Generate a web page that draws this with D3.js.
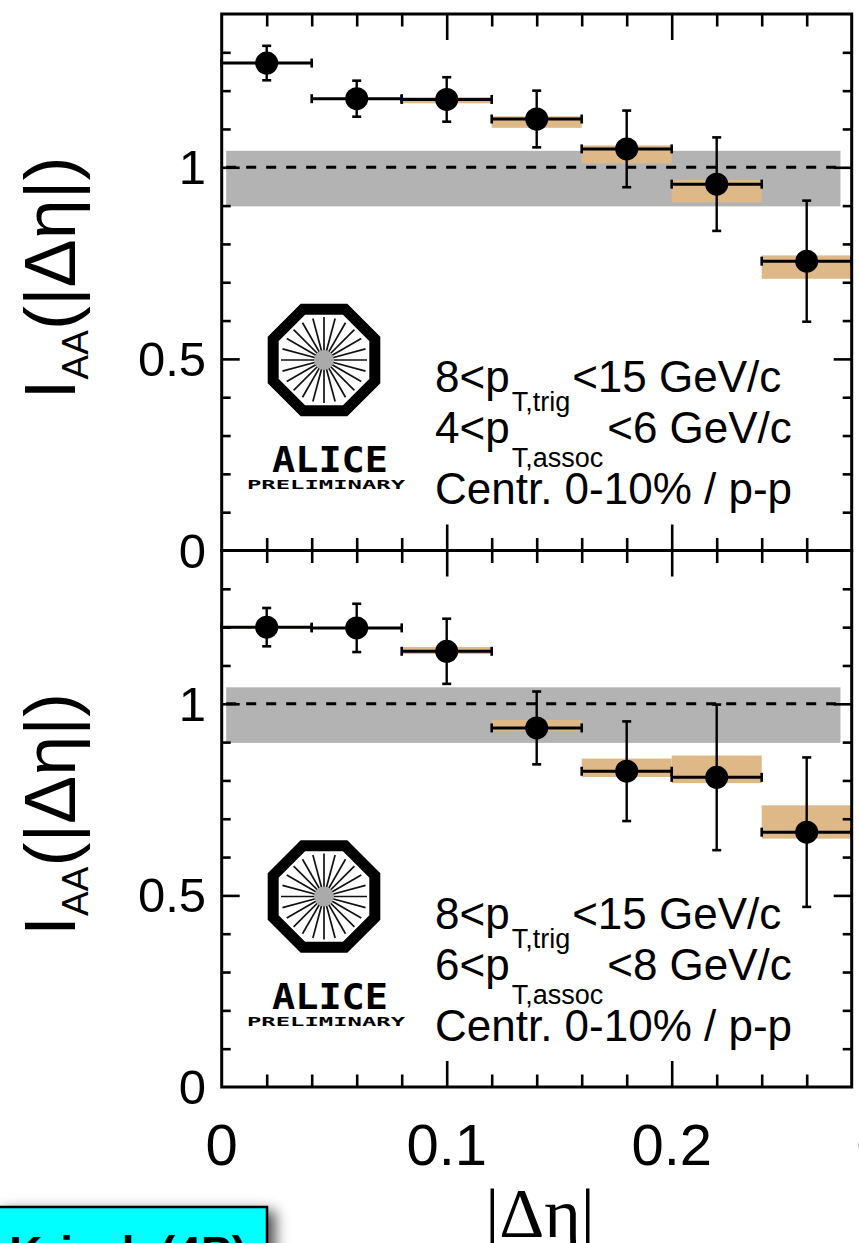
<!DOCTYPE html>
<html>
<head>
<meta charset="utf-8">
<title>I_AA vs |Δη|</title>
<script src="https://cdn.jsdelivr.net/npm/d3@7"></script>
<style>
  body { margin: 0; background: #fff; }
  svg { display: block; }
  text { font-family: "Liberation Sans", Arial, Helvetica, sans-serif; fill: #000; }
  .tick text { display: none; }
</style>
</head>
<body>
<div id="chart"></div>
<script>
(function(d3) {
  'use strict';

  // bins in |delta eta|
  var binLow = [0.00, 0.04, 0.08, 0.12, 0.16, 0.20, 0.24];
  var binHigh = [0.04, 0.08, 0.12, 0.16, 0.20, 0.24, 0.28];
  var binCenter = [0.02, 0.06, 0.10, 0.14, 0.18, 0.22, 0.26];

  // upper panel: 4 < pT,assoc < 6 GeV/c
  var iaaA = [1.272, 1.179, 1.177, 1.126, 1.048, 0.956, 0.755];
  var statA = [0.045, 0.047, 0.058, 0.074, 0.100, 0.122, 0.158];
  var sysALo = [1.269, 1.178, 1.167, 1.103, 1.010, 0.909, 0.709];
  var sysAHi = [1.275, 1.180, 1.183, 1.133, 1.057, 0.967, 0.770];

  // lower panel: 6 < pT,assoc < 8 GeV/c
  var iaaB = [1.200, 1.198, 1.137, 0.937, 0.824, 0.808, 0.665];
  var statB = [0.050, 0.063, 0.085, 0.095, 0.130, 0.190, 0.195];
  var sysBLo = [1.197, 1.197, 1.130, 0.929, 0.809, 0.793, 0.648];
  var sysBHi = [1.203, 1.199, 1.148, 0.958, 0.857, 0.865, 0.735];

  // normalisation uncertainty band around 1
  var normBand = [0.898, 1.043];
  var normRange = [0.002, 0.275];

  var assocLabels = [['4', '6'], ['6', '8']];
  var xTickValues = [0, 0.1, 0.2, 0.3];
  var xTickLabels = ['0', '0.1', '0.2', '0.3'];
  var yTickValues = [0, 0.5, 1];
  var yTickLabels = ['0', '0.5', '1'];

  var width = 859;
  var height = 1243;
  var tan = '#deb887';

  var svg = d3.select('#chart').append('svg')
    .attr('width', width)
    .attr('height', height);

  var defs = svg.append('defs');
  var shadow = defs.append('filter').attr('id', 'shadow')
    .attr('x', '-20%').attr('y', '-50%').attr('width', '150%').attr('height', '250%');
  shadow.append('feDropShadow')
    .attr('dx', 7).attr('dy', 5).attr('stdDeviation', 7)
    .attr('flood-color', '#000').attr('flood-opacity', 0.7);

  var x = d3.scaleLinear().domain([0, 0.28]).range([221.7, 851.7]);

  var panels = [
    { top: 14, bottom: 550.5, iaa: iaaA, stat: statA, lo: sysALo, hi: sysAHi, assoc: assocLabels[0] },
    { top: 550.5, bottom: 1087, iaa: iaaB, stat: statB, lo: sysBLo, hi: sysBHi, assoc: assocLabels[1] }
  ];

  var yMinor = d3.range(1, 14).map(function(i) { return i / 10; })
    .filter(function(v) { return Math.abs(v - 0.5) > 1e-6 && Math.abs(v - 1) > 1e-6; });
  var yMajor = [0.5, 1];
  var xMinor = d3.range(1, 14).map(function(i) { return i * 0.02; })
    .filter(function(v) { return Math.abs(v - 0.1) > 1e-6 && Math.abs(v - 0.2) > 1e-6; });
  var xMajor = [0.1, 0.2];

  function styleAxis(sel) {
    sel.select('.domain').remove();
    sel.selectAll('line').attr('stroke', '#000').attr('stroke-width', 2.6);
  }

  function drawLogo(g, cx, cy) {
    var r = 55;
    var pts = d3.range(8).map(function(i) {
      var a = Math.PI / 8 + i * Math.PI / 4;
      return [cx + r * Math.cos(a), cy + r * Math.sin(a)];
    });
    g.append('polygon')
      .attr('points', pts.map(function(p) { return p.join(','); }).join(' '))
      .attr('fill', '#fff')
      .attr('stroke', '#000')
      .attr('stroke-width', 11)
      .attr('stroke-linejoin', 'miter');
    g.selectAll('.ray')
      .data(d3.range(24))
      .enter().append('line')
      .attr('class', 'ray')
      .attr('x1', function(i) { return cx + 6 * Math.cos(i * Math.PI / 12); })
      .attr('y1', function(i) { return cy + 6 * Math.sin(i * Math.PI / 12); })
      .attr('x2', function(i) { return cx + 43 * Math.cos(i * Math.PI / 12); })
      .attr('y2', function(i) { return cy + 43 * Math.sin(i * Math.PI / 12); })
      .attr('stroke', '#111')
      .attr('stroke-width', 1.7);
    g.append('circle')
      .attr('cx', cx).attr('cy', cy).attr('r', 10)
      .attr('fill', '#aaa');
    g.append('text')
      .attr('x', cx - 52).attr('y', cy + 112)
      .attr('textLength', 116).attr('lengthAdjust', 'spacingAndGlyphs')
      .style('font-family', '"DejaVu Sans Mono", monospace')
      .style('font-weight', 'bold')
      .style('font-size', '36px')
      .text('ALICE');
    g.append('text')
      .attr('x', cx - 77).attr('y', cy + 129)
      .attr('textLength', 158).attr('lengthAdjust', 'spacingAndGlyphs')
      .style('font-family', '"DejaVu Sans Mono", monospace')
      .style('font-weight', 'bold')
      .style('font-size', '13px')
      .text('PRELIMINARY');
  }

  panels.forEach(function(p, pi) {
    var y = d3.scaleLinear().domain([0, 1.4]).range([p.bottom, p.top]);
    var g = svg.append('g');
    var off = p.top - 14;

    // normalisation band and unity line
    g.append('rect')
      .attr('x', x(normRange[0]))
      .attr('width', x(normRange[1]) - x(normRange[0]))
      .attr('y', y(normBand[1]))
      .attr('height', y(normBand[0]) - y(normBand[1]))
      .attr('fill', '#b3b3b3');
    g.append('line')
      .attr('x1', x(normRange[0])).attr('x2', x(normRange[1]))
      .attr('y1', y(1)).attr('y2', y(1))
      .attr('stroke', '#000').attr('stroke-width', 3)
      .attr('stroke-dasharray', '10,10');

    var idx = d3.range(binCenter.length);

    // systematic boxes
    g.selectAll('.sys').data(idx).enter().append('rect')
      .attr('class', 'sys')
      .attr('x', function(i) { return x(binLow[i]); })
      .attr('width', function(i) { return x(binHigh[i]) - x(binLow[i]); })
      .attr('y', function(i) { return y(p.hi[i]); })
      .attr('height', function(i) { return Math.max(1.5, y(p.lo[i]) - y(p.hi[i])); })
      .attr('fill', tan);

    // horizontal bars with end caps
    g.selectAll('.xerr').data(idx).enter().append('line')
      .attr('x1', function(i) { return x(binLow[i]); })
      .attr('x2', function(i) { return x(binHigh[i]); })
      .attr('y1', function(i) { return y(p.iaa[i]); })
      .attr('y2', function(i) { return y(p.iaa[i]); })
      .attr('stroke', '#000').attr('stroke-width', 3);
    [binLow, binHigh].forEach(function(edge) {
      g.selectAll(null).data(idx).enter().append('line')
        .attr('x1', function(i) { return x(edge[i]); })
        .attr('x2', function(i) { return x(edge[i]); })
        .attr('y1', function(i) { return y(p.iaa[i]) - 4.5; })
        .attr('y2', function(i) { return y(p.iaa[i]) + 4.5; })
        .attr('stroke', '#000').attr('stroke-width', 2.6);
    });

    // statistical bars with caps
    g.selectAll('.yerr').data(idx).enter().append('line')
      .attr('x1', function(i) { return x(binCenter[i]); })
      .attr('x2', function(i) { return x(binCenter[i]); })
      .attr('y1', function(i) { return y(p.iaa[i] + p.stat[i]); })
      .attr('y2', function(i) { return y(p.iaa[i] - p.stat[i]); })
      .attr('stroke', '#000').attr('stroke-width', 2.4);
    [1, -1].forEach(function(sgn) {
      g.selectAll(null).data(idx).enter().append('line')
        .attr('x1', function(i) { return x(binCenter[i]) - 4.5; })
        .attr('x2', function(i) { return x(binCenter[i]) + 4.5; })
        .attr('y1', function(i) { return y(p.iaa[i] + sgn * p.stat[i]); })
        .attr('y2', function(i) { return y(p.iaa[i] + sgn * p.stat[i]); })
        .attr('stroke', '#000').attr('stroke-width', 2.6);
    });

    // markers
    g.selectAll('.pt').data(idx).enter().append('circle')
      .attr('cx', function(i) { return x(binCenter[i]); })
      .attr('cy', function(i) { return y(p.iaa[i]); })
      .attr('r', 11.5)
      .attr('fill', '#000');

    // ticks (inside the frame)
    var x0 = x.range()[0], x1 = x.range()[1];
    [[yMinor, 9], [yMajor, 18]].forEach(function(t) {
      g.append('g').attr('transform', 'translate(' + x0 + ',0)')
        .call(d3.axisRight(y).tickValues(t[0]).tickSize(t[1]).tickSizeOuter(0))
        .call(styleAxis);
      g.append('g').attr('transform', 'translate(' + x1 + ',0)')
        .call(d3.axisLeft(y).tickValues(t[0]).tickSize(t[1]).tickSizeOuter(0))
        .call(styleAxis);
    });
    [[xMinor, 12.5], [xMajor, 26]].forEach(function(t) {
      g.append('g').attr('transform', 'translate(0,' + p.top + ')')
        .call(d3.axisBottom(x).tickValues(t[0]).tickSize(t[1]).tickSizeOuter(0))
        .call(styleAxis);
      g.append('g').attr('transform', 'translate(0,' + p.bottom + ')')
        .call(d3.axisTop(x).tickValues(t[0]).tickSize(t[1]).tickSizeOuter(0))
        .call(styleAxis);
    });

    // frame
    g.append('rect')
      .attr('x', x0).attr('y', p.top)
      .attr('width', x1 - x0).attr('height', p.bottom - p.top)
      .attr('fill', 'none').attr('stroke', '#000').attr('stroke-width', 3);

    // y tick labels
    g.selectAll('.ylab').data(yTickValues).enter().append('text')
      .attr('x', 206)
      .attr('y', function(v) { return y(v) + 17; })
      .attr('text-anchor', 'end')
      .style('font-size', '49px')
      .text(function(v, i) { return yTickLabels[i]; });

    // y axis title
    var yt = g.append('text')
      .attr('transform', 'translate(75,' + (278 + off) + ') rotate(-90)')
      .attr('text-anchor', 'middle')
      .style('font-size', '72px');
    yt.append('tspan').text('I');
    yt.append('tspan').attr('dy', 13).style('font-size', '37px').text('AA');
    yt.append('tspan').attr('dy', -13).text('(|Δη|)');

    // kinematic labels
    var l1 = g.append('text').attr('x', 435).attr('y', 392 + off).style('font-size', '44px');
    l1.append('tspan').text('8<p');
    l1.append('tspan').attr('dx', 2).attr('dy', 19).style('font-size', '27px').text('T,trig');
    l1.append('tspan').attr('dx', 2).attr('dy', -19).text('<15 GeV/c');
    var l2 = g.append('text').attr('x', 435).attr('y', 443 + off).style('font-size', '44px');
    l2.append('tspan').text(p.assoc[0] + '<p');
    l2.append('tspan').attr('dx', 2).attr('dy', 24).style('font-size', '27px').text('T,assoc');
    l2.append('tspan').attr('dx', 4).attr('dy', -24).text('<' + p.assoc[1] + ' GeV/c');
    g.append('text').attr('x', 435).attr('y', 504 + off)
      .style('font-size', '44px')
      .text('Centr. 0-10% / p-p');

    drawLogo(g.append('g'), 324, 360 + off);

    // x tick labels on the lowest panel only
    if (pi === panels.length - 1) {
      g.selectAll('.xlab').data(xTickValues).enter().append('text')
        .attr('x', function(v) { return x(v); })
        .attr('y', 1165)
        .attr('text-anchor', 'middle')
        .style('font-size', '58px')
        .text(function(v, i) { return xTickLabels[i]; });
    }
  });

  // x axis title
  svg.append('text')
    .attr('x', 540).attr('y', 1237)
    .attr('text-anchor', 'middle')
    .style('font-family', '"Liberation Serif", "Times New Roman", serif')
    .style('font-size', '70px')
    .text('|Δη|');

  // cyan speaker tag, cut by the page edge
  var tag = svg.append('g');
  tag.append('rect')
    .attr('x', -4).attr('y', 1207)
    .attr('width', 271).attr('height', 60)
    .attr('fill', '#00ffff')
    .attr('stroke', '#000').attr('stroke-width', 2.5)
    .attr('filter', 'url(#shadow)');
  tag.append('text')
    .attr('x', 247).attr('y', 1269)
    .attr('text-anchor', 'end')
    .style('font-size', '46px')
    .style('font-weight', 'bold')
    .text('Krizek (4P)');

})(window.d3);
</script>
</body>
</html>
